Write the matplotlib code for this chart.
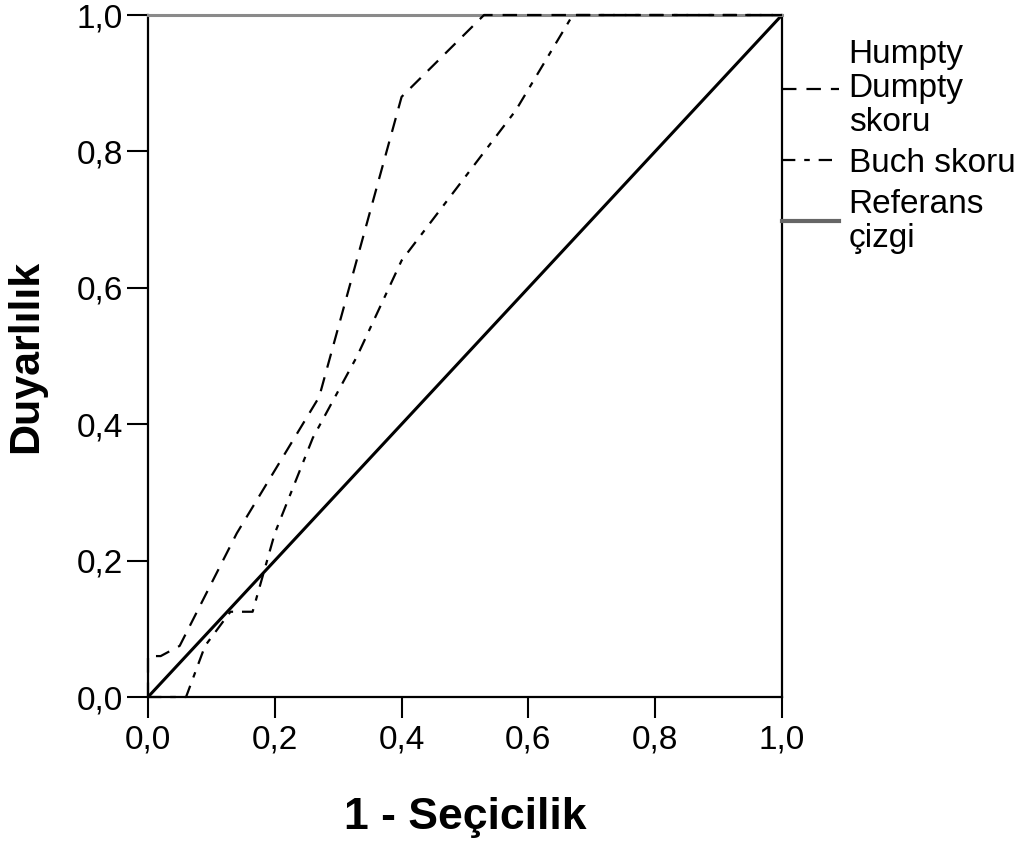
import matplotlib
matplotlib.use("Agg")
import matplotlib.pyplot as plt
from matplotlib import font_manager

# ROC curve points
humpty_fpr = [0.0, 0.0, 0.02, 0.05, 0.14, 0.27, 0.40, 0.53, 1.0]
humpty_tpr = [0.0, 0.06, 0.06, 0.075, 0.24, 0.44, 0.88, 1.0, 1.0]

buch_fpr = [0.0, 0.06, 0.09, 0.13, 0.165, 0.20, 0.26, 0.33, 0.40, 0.58, 0.67, 1.0]
buch_tpr = [0.0, 0.0, 0.075, 0.125, 0.125, 0.24, 0.38, 0.50, 0.64, 0.86, 1.0, 1.0]

ref_line = [0.0, 1.0]

ticks = [0.0, 0.2, 0.4, 0.6, 0.8, 1.0]
tick_labels = ["0,0", "0,2", "0,4", "0,6", "0,8", "1,0"]

names = ["Humpty\nDumpty\nskoru", "Buch skoru", "Referans\nçizgi"]

installed = {f.name for f in font_manager.fontManager.ttflist}
narrow = "Liberation Sans Narrow" if "Liberation Sans Narrow" in installed else "Liberation Sans"
plt.rcParams["font.family"] = [narrow, "DejaVu Sans"]

fig = plt.figure(figsize=(10.31, 8.56), dpi=100)
ax = fig.add_axes([148 / 1031, 159 / 856, 634 / 1031, 682 / 856])

ax.plot(humpty_fpr, humpty_tpr, color="black", lw=1.6, dashes=(6.5, 4.5),
        clip_on=False, zorder=3, label=names[0])
ax.plot(buch_fpr, buch_tpr, color="black", lw=1.6, dashes=(6, 4, 2.5, 4),
        clip_on=False, zorder=3, label=names[1])
ax.plot(ref_line, ref_line, color="black", lw=2.2, zorder=2)

# legend handle for the reference line is gray as in the picture
ref_handle, = ax.plot([], [], color="#666666", lw=3, label=names[2])

ax.set_xlim(0, 1)
ax.set_ylim(0, 1)
ax.set_xticks(ticks)
ax.set_xticklabels(tick_labels)
ax.set_yticks(ticks)
ax.set_yticklabels(tick_labels)
ax.tick_params(direction="out", length=15, width=1.5, labelsize=24, pad=3)
ax.tick_params(axis="x", pad=5)

for side in ["left", "bottom", "right"]:
    ax.spines[side].set_linewidth(1.6)
    ax.spines[side].set_color("black")
ax.spines["top"].set_linewidth(2.2)
ax.spines["top"].set_color("#8a8a8a")

ax.set_xlabel("1 - Seçicilik", fontsize=32, fontweight="bold", labelpad=30)
ax.set_ylabel("Duyarlılık", fontsize=31, fontweight="bold", labelpad=22)

leg = ax.legend(loc="upper left", bbox_to_anchor=(1.0, 0.965), frameon=False,
                fontsize=24, handlelength=1.7, handletextpad=0.3,
                borderaxespad=0, borderpad=0, labelspacing=0.3)
for t in leg.get_texts():
    t.set_linespacing(1.12)

fig.savefig("out.png", dpi=100)
